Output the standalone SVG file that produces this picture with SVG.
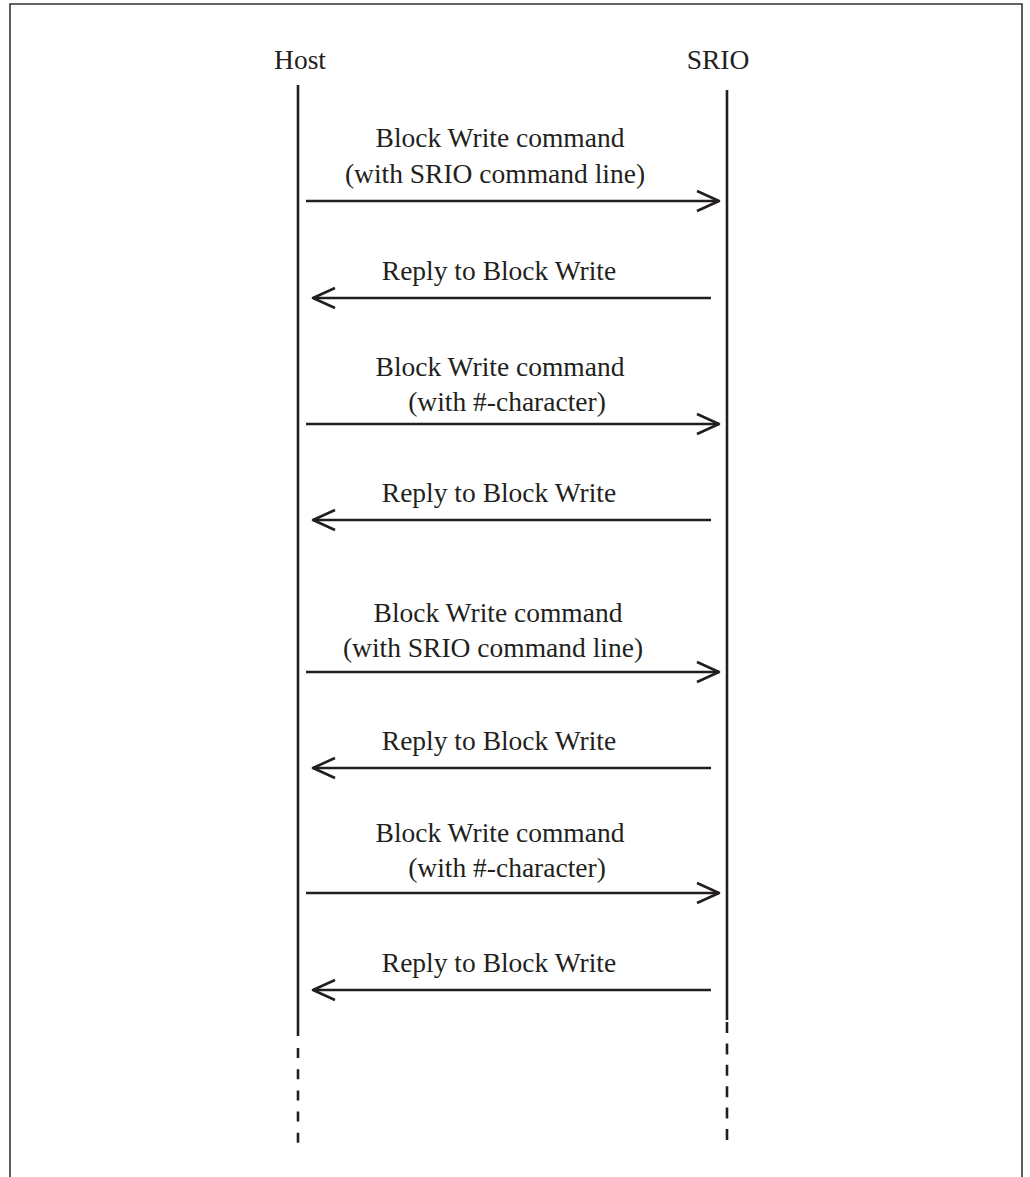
<svg xmlns="http://www.w3.org/2000/svg" width="1030" height="1177" viewBox="0 0 1030 1177">
  <style>
    .label { font-family: "Liberation Serif", "Times New Roman", serif; font-size: 27.5px; fill: #231f20; text-anchor: middle; }
    .life { stroke: #231f20; stroke-width: 2.6; fill: none; }
    .msg { stroke: #231f20; stroke-width: 2.6; fill: none; marker-end: url(#chev); }
    .frame { stroke: #333333; stroke-width: 1.6; fill: none; }
  </style>
  <defs>
    <marker id="chev" markerUnits="userSpaceOnUse" viewBox="-24 -12 26 24" refX="0" refY="0" markerWidth="26" markerHeight="24" orient="auto" overflow="visible">
      <path d="M-22,-10 L0,0 L-22,10" fill="none" stroke="#231f20" stroke-width="2.6" stroke-linejoin="round"/>
    </marker>
  </defs>
  <rect width="1030" height="1177" fill="#ffffff"/>
  <!-- outer frame, open at the bottom -->
  <path class="frame" d="M10,1180 V4 H1022 V1180"/>

  <!-- participants -->
  <g id="host">
    <text class="label" x="300" y="69">Host</text>
    <line class="life" x1="298" y1="85" x2="298" y2="1036"/>
    <line class="life" x1="298" y1="1048" x2="298" y2="1144" stroke-dasharray="10 11.2"/>
  </g>
  <g id="srio">
    <text class="label" x="718" y="69">SRIO</text>
    <line class="life" x1="727" y1="90" x2="727" y2="1020"/>
    <line class="life" x1="727" y1="1022" x2="727" y2="1140" stroke-dasharray="11 10.4"/>
  </g>

  <!-- messages between the lifelines -->
  <g id="connectors">
    <path class="msg" d="M306,201 H719"/>
    <path class="msg" d="M711,298 H313"/>
    <path class="msg" d="M306,424 H719"/>
    <path class="msg" d="M711,520 H313"/>
    <path class="msg" d="M306,672 H719"/>
    <path class="msg" d="M711,768 H313"/>
    <path class="msg" d="M306,893 H719"/>
    <path class="msg" d="M711,990 H313"/>
  </g>

  <!-- message labels -->
  <g id="msg1">
    <text class="label" x="500" y="147">Block Write command</text>
    <text class="label" x="495" y="183">(with SRIO command line)</text>
  </g>
  <g id="msg2">
    <text class="label" x="499" y="280">Reply to Block Write</text>
  </g>
  <g id="msg3">
    <text class="label" x="500" y="376">Block Write command</text>
    <text class="label" x="507" y="411">(with #-character)</text>
  </g>
  <g id="msg4">
    <text class="label" x="499" y="502">Reply to Block Write</text>
  </g>
  <g id="msg5">
    <text class="label" x="498" y="622">Block Write command</text>
    <text class="label" x="493" y="657">(with SRIO command line)</text>
  </g>
  <g id="msg6">
    <text class="label" x="499" y="750">Reply to Block Write</text>
  </g>
  <g id="msg7">
    <text class="label" x="500" y="842">Block Write command</text>
    <text class="label" x="507" y="877">(with #-character)</text>
  </g>
  <g id="msg8">
    <text class="label" x="499" y="972">Reply to Block Write</text>
  </g>
</svg>
